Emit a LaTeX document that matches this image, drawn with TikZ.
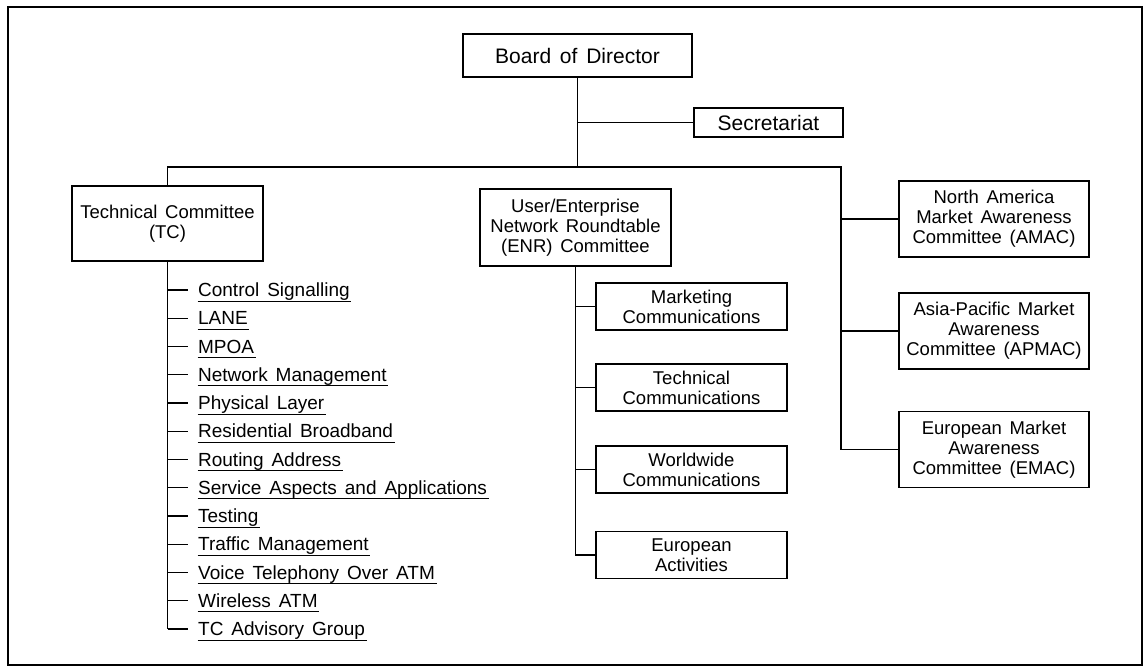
\documentclass[tikz,border=0pt]{standalone}
\usepackage{fontspec}
\setmainfont{Liberation Sans}[WordSpace={1.5}]
\begin{document}
\begin{tikzpicture}[x=1pt,y=-1pt,
  line width=1.3pt,
  box/.style={draw,line width=1.2pt,inner sep=0pt,align=center,font=\fontsize{18.5}{20}\selectfont},
  big/.style={font=\fontsize{21}{24}\selectfont},
  sub/.style={box,minimum width=191pt,minimum height=47pt},
  mkt/.style={box,minimum width=190pt,minimum height=76pt},
  item/.style={inner sep=0pt,anchor=west,text height=13.4pt,text depth=0pt,font=\fontsize{19}{20}\selectfont},
  uline/.style={line width=0.9pt},
]
\useasboundingbox (0,0) rectangle (1148,670);
\draw[line width=1.2pt] (8,7) rectangle (1142,665);

% boxes
\node[box,big,line width=2.2pt,minimum width=229pt,minimum height=43pt] (bod) at (577.5,55.5) {Board of Director};
\node[box,big,minimum width=149pt,minimum height=29pt] (sec) at (768.5,122.5) {Secretariat};
\node[box,minimum width=191pt,minimum height=75pt] (tc) at (167.5,223.5) {Technical Committee\\(TC)};
\node[box,minimum width=191pt,minimum height=77pt] (enr) at (575.5,227.5) {User/Enterprise\\Network Roundtable\\(ENR) Committee};

\node[sub] (mk) at (691.5,306.5) {Marketing\\Communications};
\node[sub] (te) at (691.5,387.5) {Technical\\Communications};
\node[sub] (ww) at (691.5,469.5) {Worldwide\\Communications};
\node[sub] (eu) at (691.5,555) {European\\Activities};

\node[mkt] (amac) at (994,219) {North America\\Market Awareness\\Committee (AMAC)};
\node[mkt] (apmac) at (994,331) {Asia-Pacific Market\\Awareness\\Committee (APMAC)};
\node[mkt] (emac) at (994,449.5) {European Market\\Awareness\\Committee (EMAC)};

% main tree
\coordinate (hl) at (167.5,167);
\coordinate (hr) at (841,167);
\draw (bod.south) -- (bod.south |- hl);
\draw (bod.south |- sec) -- (sec.west);
\draw (tc.north) -- (hl) -- (hr) -- (hr |- emac) -- (emac.west);
\draw (hr |- amac) -- (amac.west);
\draw (hr |- apmac) -- (apmac.west);

% ENR tree
\draw (enr.south) -- (enr.south |- eu) -- (eu.west);
\draw (enr.south |- mk) -- (mk.west);
\draw (enr.south |- te) -- (te.west);
\draw (enr.south |- ww) -- (ww.west);

% TC list
\foreach \t [count=\k] in {Control Signalling, LANE, MPOA, Network Management, Physical Layer, Residential Broadband, Routing Address, Service Aspects and Applications, Testing, Traffic Management, Voice Telephony Over ATM, Wireless ATM, TC Advisory Group} {
  \node[item] (i\k) at (197.5,{290+(\k-1)*28.25}) {\t};
  \draw (tc.south |- i\k.west) -- ([xshift=-9.5pt]i\k.west);
  \draw[uline] ([yshift=-4.3pt]i\k.base west) -- ([yshift=-4.3pt,xshift=1pt]i\k.base east);
}
\draw (tc.south) -- (tc.south |- i13.west);
\end{tikzpicture}
\end{document}
